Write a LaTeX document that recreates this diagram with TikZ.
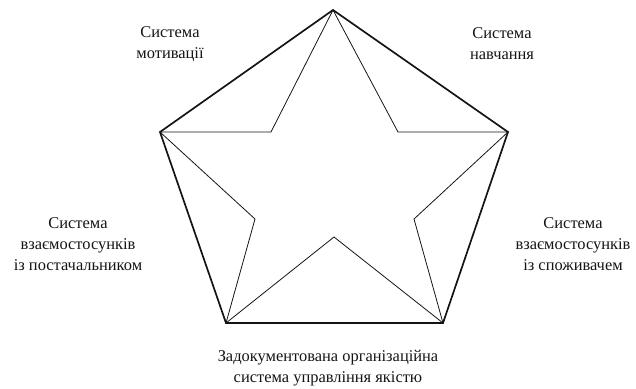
\documentclass[tikz,border=0pt]{standalone}
\usepackage{fontspec}
\setmainfont{Liberation Serif}
\usepackage{tikz}
\usetikzlibrary{positioning}
\definecolor{mydark}{RGB}{20,20,20}
\tikzset{
  pentaline/.style={line width=1.7pt, color=mydark, line join=miter},
  starline/.style={line width=0.8pt, color=mydark, line join=miter},
  caption/.style={align=center, inner sep=0pt,
    font=\fontsize{16.5}{21}\selectfont, text=mydark}
}

\begin{document}
\begin{tikzpicture}[x=1bp, y=-1bp]
  \useasboundingbox (0,0) rectangle (636,388);
  
  % outer points
  \coordinate (top) at (333,10);
  \coordinate (ul) at (160,132);
  \coordinate (ur) at (508,132);
  \coordinate (ll) at (226,323);
  \coordinate (lr) at (443,323);
  % inner points of the star
  \coordinate (iul) at (271,132);
  \coordinate (iur) at (398,132);
  \coordinate (il) at (255,219);
  \coordinate (ir) at (414,219);
  \coordinate (ib) at (334,237);
  
  \draw[starline] (top) -- (iul) -- (ul) -- (il) -- (ll) -- (ib) -- (lr) -- (ir) -- (ur) -- (iur) -- cycle;
  \draw[pentaline] (top) -- (ur) -- (lr) -- (ll) -- (ul) -- cycle;
  
  \node[caption] (motiv) at (170,44) {Система\\мотивації};
  \node[caption] (learn) at (502,44) {Система\\навчання};
  \node[caption] (suppl) at (78,244) {Система\\взаємостосунків\\із постачальником};
  \node[caption] (cust) at (573,244) {Система\\взаємостосунків\\із споживачем};
  \node[caption] (qms) at (328,368) {Задокументована організаційна\\система управління якістю};
\end{tikzpicture}
\end{document}
